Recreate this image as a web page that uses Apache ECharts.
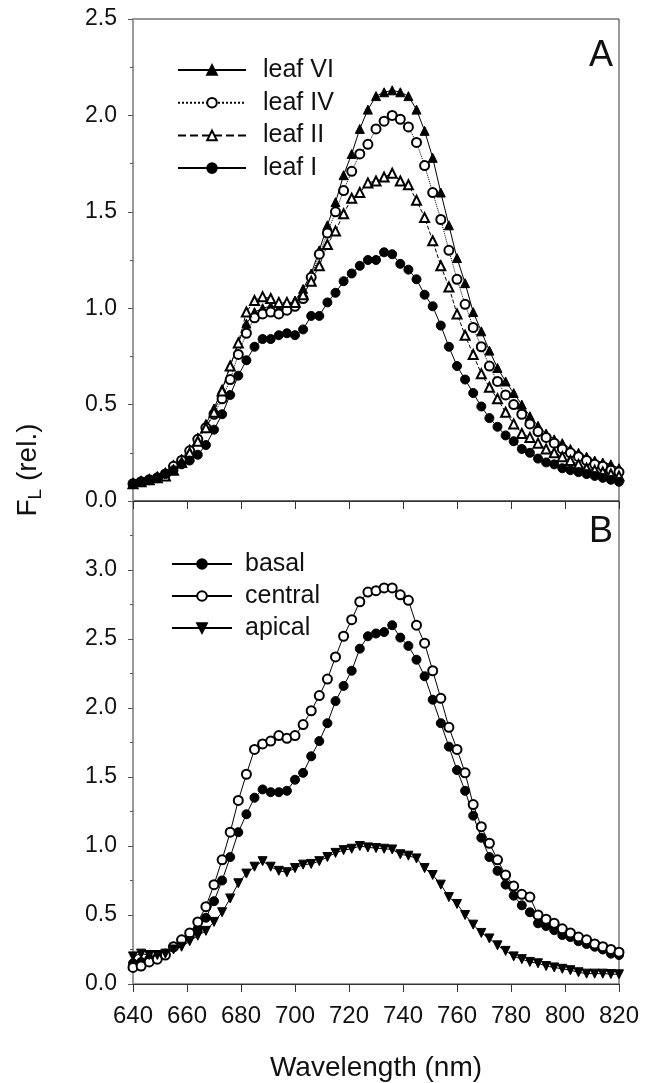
<!DOCTYPE html>
<html>
<head>
<meta charset="utf-8">
<script src="https://cdn.jsdelivr.net/npm/echarts@6/dist/echarts.min.js"></script>
<style>
html,body{margin:0;padding:0;background:#fff;}
#chart{width:650px;height:1083px;}
</style>
</head>
<body>
<div id="chart"></div>
<script>
// Wavelength grid (nm)
const wavelengths = [640,643,646,649,652,655,658,661,664,667,670,673,676,679,682,685,688,691,694,697,
  700,703,706,709,712,715,718,721,724,727,730,733,736,739,742,745,748,751,754,757,
  760,763,766,769,772,775,778,781,784,787,790,793,796,799,802,805,808,811,814,817,820];

// Panel A
const leafVI = [0.09,0.10,0.11,0.13,0.15,0.19,0.22,0.27,0.33,0.40,0.48,0.58,0.70,0.82,0.92,0.98,1.00,1.01,1.00,1.01,
  1.04,1.10,1.18,1.30,1.43,1.55,1.69,1.80,1.93,2.03,2.10,2.12,2.13,2.12,2.10,2.03,1.92,1.78,1.60,1.43,
  1.26,1.13,0.98,0.88,0.78,0.69,0.62,0.56,0.50,0.44,0.39,0.35,0.32,0.30,0.27,0.25,0.23,0.21,0.20,0.19,0.17];
const leafIV = [0.09,0.10,0.11,0.12,0.14,0.18,0.21,0.26,0.32,0.38,0.45,0.53,0.63,0.76,0.87,0.95,0.97,0.98,0.97,0.99,
  1.01,1.05,1.16,1.28,1.39,1.50,1.61,1.71,1.80,1.85,1.93,1.97,2.00,1.98,1.94,1.86,1.74,1.60,1.46,1.30,
  1.15,1.02,0.90,0.80,0.70,0.62,0.55,0.50,0.45,0.40,0.36,0.33,0.30,0.27,0.25,0.23,0.21,0.19,0.18,0.16,0.15];
const leafII = [0.09,0.10,0.11,0.12,0.13,0.16,0.20,0.25,0.31,0.38,0.46,0.57,0.70,0.82,0.98,1.04,1.06,1.05,1.03,1.03,
  1.03,1.07,1.14,1.22,1.33,1.40,1.49,1.57,1.60,1.65,1.66,1.68,1.70,1.66,1.64,1.56,1.47,1.35,1.22,1.11,
  0.97,0.86,0.76,0.66,0.59,0.53,0.46,0.40,0.35,0.33,0.30,0.27,0.25,0.23,0.21,0.19,0.17,0.16,0.15,0.14,0.13];
const leafI = [0.09,0.10,0.11,0.12,0.14,0.16,0.19,0.21,0.24,0.29,0.37,0.45,0.55,0.65,0.73,0.80,0.84,0.84,0.86,0.87,
  0.86,0.89,0.96,0.96,1.03,1.08,1.14,1.18,1.22,1.25,1.25,1.29,1.28,1.23,1.20,1.15,1.07,1.01,0.91,0.80,
  0.70,0.63,0.56,0.49,0.43,0.385,0.34,0.31,0.27,0.25,0.22,0.20,0.19,0.17,0.16,0.15,0.14,0.13,0.12,0.11,0.10];

// Panel B
const basal = [0.15,0.16,0.18,0.19,0.22,0.27,0.32,0.35,0.40,0.48,0.60,0.75,0.92,1.10,1.23,1.35,1.41,1.39,1.39,1.40,
  1.48,1.53,1.65,1.76,1.89,2.05,2.16,2.27,2.43,2.52,2.54,2.55,2.60,2.51,2.45,2.35,2.23,2.06,1.89,1.72,
  1.55,1.40,1.22,1.06,0.92,0.82,0.72,0.64,0.57,0.52,0.44,0.42,0.39,0.355,0.34,0.31,0.29,0.27,0.25,0.22,0.21];
const central = [0.12,0.13,0.16,0.18,0.21,0.27,0.32,0.37,0.45,0.56,0.72,0.90,1.10,1.33,1.52,1.70,1.74,1.76,1.80,1.78,
  1.80,1.88,1.98,2.09,2.21,2.37,2.52,2.64,2.77,2.84,2.85,2.87,2.87,2.82,2.78,2.60,2.47,2.27,2.07,1.86,
  1.70,1.53,1.30,1.14,1.02,0.90,0.79,0.71,0.65,0.63,0.50,0.47,0.44,0.40,0.37,0.34,0.32,0.29,0.27,0.25,0.23];
const apical = [0.20,0.22,0.21,0.21,0.22,0.25,0.27,0.31,0.35,0.385,0.45,0.52,0.62,0.73,0.80,0.85,0.89,0.85,0.82,0.81,
  0.84,0.865,0.87,0.89,0.92,0.95,0.97,0.98,1.00,0.99,0.985,0.98,0.975,0.94,0.93,0.91,0.84,0.79,0.72,0.63,
  0.58,0.50,0.43,0.37,0.33,0.28,0.24,0.20,0.18,0.16,0.15,0.13,0.12,0.11,0.10,0.085,0.075,0.075,0.075,0.072,0.07];

const xTicks = [640,660,680,700,720,740,760,780,800,820];
const yTicksA = [0.0,0.5,1.0,1.5,2.0,2.5];
const yTicksB = [0.0,0.5,1.0,1.5,2.0,2.5,3.0];
const legendA = ['leaf VI','leaf IV','leaf II','leaf I'];
const legendB = ['basal','central','apical'];

const FONT = '"Liberation Sans", Arial, sans-serif';
const pairs = (ys) => wavelengths.map((w,i)=>[w, ys[i]]);

function mkSeries(name, ys, gi, symbol, lineType, rotate){
  return {
    name, type:'line', xAxisIndex:gi, yAxisIndex:gi, data:pairs(ys),
    symbol, symbolSize:9, symbolRotate: rotate||0, showAllSymbol:true,
    lineStyle:{color:'#000', width:1, type:lineType||'solid'},
    itemStyle:{color:'#000', borderColor:'#000', borderWidth:1},
    emphasis:{disabled:true}, z:3
  };
}

function xAxisCfg(gi, showLabels){
  return {
    gridIndex:gi, type:'value', min:640, max:820, interval:20,
    axisLine:{show:true, onZero:false, lineStyle:{color:'#333', width:1}},
    axisTick:{show:true, length:8, lineStyle:{color:'#333'}},
    axisLabel:{show:showLabels, fontSize:24, color:'#111', margin:20, fontFamily:FONT,
      formatter: v => xTicks.includes(v) ? String(v) : ''},
    splitLine:{show:false}
  };
}
function yAxisCfg(gi, max, ticks){
  return {
    gridIndex:gi, type:'value', min:0, max:max, interval:0.5,
    axisLine:{show:true, onZero:false, lineStyle:{color:'#999', width:2}},
    axisTick:{show:true, length:5, lineStyle:{color:'#555'}},
    minorTick:{show:true, splitNumber:2, length:3, lineStyle:{color:'#555'}},
    axisLabel:{fontSize:23, color:'#111', margin:16, fontFamily:FONT,
      formatter: v => { const t = ticks.find(t=>Math.abs(t-v)<1e-6); return t===undefined ? '' : t.toFixed(1); }},
    splitLine:{show:false}
  };
}

const chart = echarts.init(document.getElementById('chart'), null, {renderer:'canvas'});
chart.setOption({
  animation:false,
  backgroundColor:'#fff',
  textStyle:{fontFamily:FONT},
  grid:[
    {left:133, top:19, width:486, height:482, show:true, borderColor:'#333', borderWidth:1},
    {left:133, top:501, width:486, height:483, show:true, borderColor:'#333', borderWidth:1}
  ],
  xAxis:[xAxisCfg(0,false), xAxisCfg(1,true)],
  yAxis:[yAxisCfg(0,2.5,yTicksA), yAxisCfg(1,3.5,yTicksB)],
  legend:[
    {data:legendA, orient:'vertical', left:172, top:52, itemWidth:68, itemHeight:12, itemGap:6.7,
     selectedMode:false, textStyle:{fontSize:25, lineHeight:26, color:'#111', fontFamily:FONT, padding:[0,0,0,12]}},
    {data:legendB, orient:'vertical', left:166, top:546, itemWidth:60, itemHeight:12, itemGap:6,
     selectedMode:false, textStyle:{fontSize:25, lineHeight:26, color:'#111', fontFamily:FONT, padding:[0,0,0,8]}}
  ],
  graphic:[
    {type:'text', right:650-613, top:38, style:{text:'A', fontSize:36, fill:'#111', fontFamily:FONT}},
    {type:'text', right:650-613, top:514, style:{text:'B', fontSize:36, fill:'#111', fontFamily:FONT}},
    {type:'text', x:376, y:1068, style:{text:'Wavelength (nm)', fontSize:28, fill:'#111', fontFamily:FONT, align:'center', verticalAlign:'middle'}},
    {type:'text', x:28, y:470, rotation:Math.PI/2,
     style:{text:'{a|F}{b|L}{a| (rel.)}', align:'center', verticalAlign:'middle', fill:'#111',
       rich:{a:{fontSize:28, fontFamily:FONT, lineHeight:34, verticalAlign:'middle'},
             b:{fontSize:19, fontFamily:FONT, lineHeight:19, verticalAlign:'bottom', padding:[0,0,0,0]}}}}
  ],
  series:[
    mkSeries('leaf VI', leafVI, 0, 'triangle', 'solid'),
    mkSeries('leaf IV', leafIV, 0, 'emptyCircle', 'dotted'),
    mkSeries('leaf II', leafII, 0, 'emptyTriangle', 'dashed'),
    mkSeries('leaf I', leafI, 0, 'circle', 'solid'),
    mkSeries('basal', basal, 1, 'circle', 'solid'),
    mkSeries('central', central, 1, 'emptyCircle', 'solid'),
    mkSeries('apical', apical, 1, 'triangle', 'solid', 180)
  ]
});
</script>
</body>
</html>
